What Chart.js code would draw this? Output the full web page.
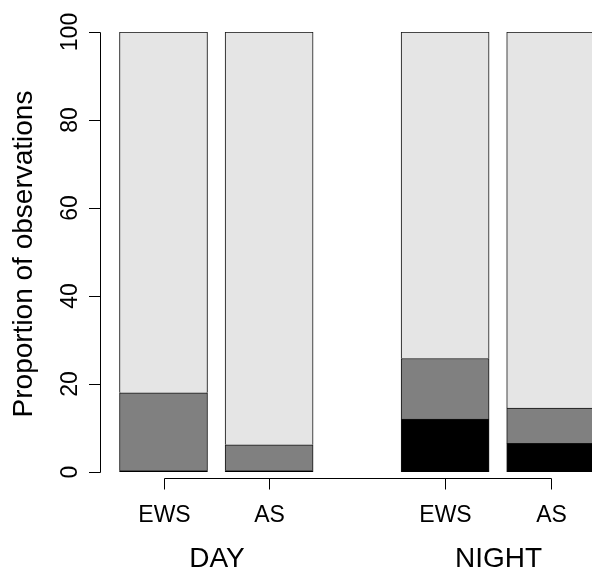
<!DOCTYPE html>
<html>
<head>
<meta charset="utf-8">
<script src="https://cdn.jsdelivr.net/npm/chart.js@4.4.1/dist/chart.umd.min.js"></script>
<style>
  html, body { margin: 0; padding: 0; background: #fff; overflow: hidden; }
  #wrap { width: 660px; height: 569px; }
</style>
</head>
<body>
<div id="wrap"><canvas id="chart" width="660" height="569"></canvas></div>
<script>
// data (percent of observations)
var categories = ['EWS', 'AS', 'EWS', 'AS'];
var groups = ['DAY', 'NIGHT'];
var groupOf = [0, 0, 1, 1];
var blackPart = [0.3, 0.3, 12.0, 6.5];
var greyPart = [17.7, 5.9, 13.8, 8.0];
var lightPart = [82.0, 93.8, 74.2, 85.5];
var yTicks = [0, 20, 40, 60, 80, 100];

// bar centres on the x scale (barplot-like spacing: 0.2 within, 1 between groups)
var barX = [0.7, 1.9, 3.9, 5.1];

var font = '"Liberation Sans", Arial, Helvetica, sans-serif';

function pts(vals) {
    return vals.map(function(v, i) { return { x: barX[i], y: v }; });
}

var axesPlugin = {
    id: 'rAxes',
    afterDraw: function(chart) {
        var ctx = chart.ctx;
        var xs = chart.scales.x, ys = chart.scales.y;
        var left = chart.chartArea.left;
        ctx.save();
        ctx.strokeStyle = '#000';
        ctx.fillStyle = '#000';
        ctx.lineWidth = 1;

        // y axis
        var y0 = Math.round(ys.getPixelForValue(yTicks[0])) + 0.5;
        var y1 = Math.round(ys.getPixelForValue(yTicks[yTicks.length - 1])) + 0.5;
        ctx.beginPath();
        ctx.moveTo(left + 0.5, y0);
        ctx.lineTo(left + 0.5, y1);
        yTicks.forEach(function(t) {
            var py = Math.round(ys.getPixelForValue(t)) + 0.5;
            ctx.moveTo(left + 0.5, py);
            ctx.lineTo(left - 11, py);
        });
        ctx.stroke();
        ctx.font = '23px ' + font;
        ctx.textAlign = 'center';
        ctx.textBaseline = 'alphabetic';
        yTicks.forEach(function(t) {
            var py = ys.getPixelForValue(t);
            ctx.save();
            ctx.translate(77, py);
            ctx.rotate(-Math.PI / 2);
            ctx.fillText(String(t), 0, 0);
            ctx.restore();
        });

        // y title
        ctx.save();
        ctx.font = '28px ' + font;
        ctx.translate(32, 254);
        ctx.rotate(-Math.PI / 2);
        ctx.fillText('Proportion of observations', 0, 0);
        ctx.restore();

        // x axis
        var px = barX.map(function(v) { return Math.round(xs.getPixelForValue(v)) + 0.5; });
        var ax = 478.5;
        ctx.beginPath();
        ctx.moveTo(px[0], ax);
        ctx.lineTo(px[px.length - 1], ax);
        px.forEach(function(p) {
            ctx.moveTo(p, ax);
            ctx.lineTo(p, ax + 11);
        });
        ctx.stroke();
        ctx.font = '23px ' + font;
        categories.forEach(function(c, i) {
            ctx.fillText(c, px[i], 522);
        });
        ctx.font = '28px ' + font;
        groups.forEach(function(g, gi) {
            var sum = 0, n = 0;
            groupOf.forEach(function(k, i) { if (k === gi) { sum += px[i]; n++; } });
            ctx.fillText(g, sum / n, 567);
        });
        ctx.restore();
    }
};

var chart = new Chart(document.getElementById('chart'), {
    type: 'bar',
    data: {
        datasets: [
            { label: 'black', data: pts(blackPart), backgroundColor: '#000000' },
            { label: 'grey', data: pts(greyPart), backgroundColor: '#808080' },
            { label: 'light', data: pts(lightPart), backgroundColor: '#E5E5E5' }
        ]
    },
    options: {
        responsive: false,
        animation: false,
        devicePixelRatio: 1,
        layout: { padding: { left: 100, top: 32, bottom: 97, right: 0 } },
        datasets: {
            bar: { barThickness: 88, borderWidth: 1, borderColor: '#111' }
        },
        scales: {
            x: { type: 'linear', stacked: true, offset: false, display: false, min: -0.0216, max: 6.342 },
            y: { stacked: true, display: false, min: 0, max: 100 }
        },
        plugins: { legend: { display: false }, tooltip: { enabled: false } }
    },
    plugins: [axesPlugin]
});
</script>
</body>
</html>
